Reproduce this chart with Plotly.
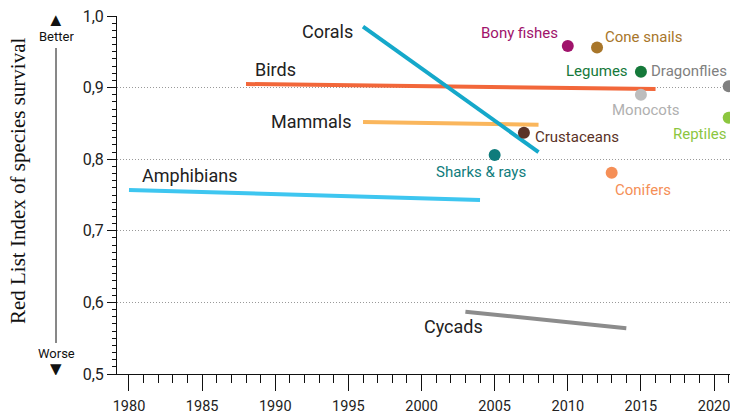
import plotly.graph_objects as go

# Line series (start year, end year, start value, end value)
line_names = ["Amphibians", "Birds", "Mammals", "Corals", "Cycads"]
line_years = [[1980, 2004], [1988, 2016], [1996, 2008], [1996, 2008], [2003, 2014]]
line_values = [[0.757, 0.743], [0.905, 0.898], [0.852, 0.848], [0.985, 0.810], [0.587, 0.564]]
line_colors = ["#3EC6F0", "#F2673A", "#FAB65C", "#15A8CA", "#8C8C8C"]

# Point series
point_names = ["Bony fishes", "Cone snails", "Legumes", "Monocots", "Dragonflies",
               "Reptiles", "Crustaceans", "Sharks & rays", "Conifers"]
point_years = [2010, 2012, 2015, 2015, 2021, 2021, 2007, 2005, 2013]
point_values = [0.958, 0.956, 0.922, 0.890, 0.902, 0.858, 0.837, 0.806, 0.781]
point_colors = ["#A0136B", "#A8762A", "#15793A", "#BDBDBD", "#808080",
                "#8CC63F", "#5A3226", "#0F7C7C", "#F58F57"]

x_ticks = [1980, 1985, 1990, 1995, 2000, 2005, 2010, 2015, 2020]

FONT = "Roboto, sans-serif"

fig = go.Figure()
for n, xs, ys, c in zip(line_names, line_years, line_values, line_colors):
    fig.add_trace(go.Scatter(x=xs, y=ys, mode="lines", line=dict(color=c, width=4),
                             name=n, showlegend=False, hoverinfo="skip"))
for n, x, y, c in zip(point_names, point_years, point_values, point_colors):
    fig.add_trace(go.Scatter(x=[x], y=[y], mode="markers",
                             marker=dict(color=c, size=12), name=n, showlegend=False))

# labels: (text, x, y, xanchor, color, size)
labels = [
    ("Corals", 1995.45, 0.978, "right", "#222", 18),
    ("Birds", 1990.0, 0.925, "center", "#222", 18),
    ("Mammals", 1995.4, 0.852, "right", "#222", 18),
    ("Amphibians", 1980.75, 0.777, "left", "#222", 18),
    ("Cycads", 2002.2, 0.566, "center", "#222", 18),
    ("Bony fishes", 2009.5, 0.976, "right", point_colors[0], 15),
    ("Cone snails", 2012.4, 0.971, "left", point_colors[1], 15),
    ("Legumes", 2014.26, 0.923, "right", point_colors[2], 15),
    ("Monocots", 2015.35, 0.869, "center", "#B0B0B0", 15),
    ("Dragonflies", 2021.0, 0.923, "right", point_colors[4], 15),
    ("Reptiles", 2021.0, 0.835, "right", point_colors[5], 15),
    ("Crustaceans", 2007.6, 0.831, "left", point_colors[6], 15),
    ("Sharks & rays", 2004.1, 0.782, "center", point_colors[7], 15),
    ("Conifers", 2013.1, 0.757, "left", point_colors[8], 15),
]
for t, x, y, xa, c, s in labels:
    fig.add_annotation(x=x, y=y, text=t, showarrow=False, xanchor=xa, yanchor="middle",
                       font=dict(family=FONT, size=s, color=c))

# y-axis title and better/worse
fig.add_annotation(xref="paper", yref="paper", x=-0.1615, y=0.539, text="Red List Index of species survival",
                   textangle=-90, showarrow=False, xanchor="center", yanchor="middle",
                   font=dict(family="Liberation Serif, serif", size=21, color="#111"))
for txt, yy, fsz, h in [("▲", 0.990, 15, 12), ("Better", 0.944, 13, 14),
                        ("Worse", 0.058, 13, 14), ("▼", 0.013, 15, 12)]:
    fig.add_annotation(xref="paper", yref="paper", x=-0.0995, y=yy, text=txt, showarrow=False,
                       xanchor="center", yanchor="middle", height=h, valign="middle",
                       font=dict(family="DejaVu Sans, sans-serif" if len(txt) == 1 else FONT,
                                 size=fsz, color="#111"))
fig.add_shape(type="line", xref="paper", yref="paper", x0=-0.0995, x1=-0.0995, y0=0.0866, y1=0.9106,
              line=dict(color="#111", width=1))

fig.update_layout(
    width=730, height=420, margin=dict(l=117, r=0, t=16, b=46),
    plot_bgcolor="white", paper_bgcolor="white", separators=", ",
    font=dict(family=FONT, size=15, color="#222"),
    xaxis=dict(range=[1979.18, 2021.09], tickvals=x_ticks, ticks="outside", ticklen=16,
               tickcolor="#111", showline=True, linecolor="#111", showgrid=False, zeroline=False,
               ticklabeloverflow="allow", ticklabelstandoff=3,
               minor=dict(dtick=1, tick0=1980, ticks="outside", ticklen=8, tickcolor="#111", showgrid=False),
               tickfont=dict(size=14.5)),
    yaxis=dict(range=[0.5, 1.0], dtick=0.1, tick0=0.5, tickformat=".1f", ticks="outside", ticklen=9,
               tickcolor="#111", showline=True, linecolor="#111", showgrid=True, gridcolor="#999",
               griddash="1px,2px", gridwidth=1, zeroline=False,
               minor=dict(dtick=0.01, ticks="outside", ticklen=4, tickcolor="#111", showgrid=False),
               tickfont=dict(size=16)),
)

fig.write_html("out.html", config={"displayModeBar": False},
               post_script="document.body.style.margin='0';")
